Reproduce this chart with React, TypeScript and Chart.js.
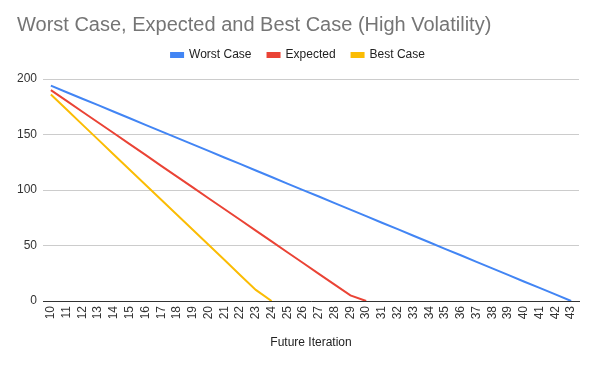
import React, { useEffect, useRef } from "react";
import { Chart, registerables } from "chart.js";

Chart.register(...registerables);

const categories = [
  "10","11","12","13","14","15","16","17","18","19","20","21","22","23","24","25","26",
  "27","28","29","30","31","32","33","34","35","36","37","38","39","40","41","42","43",
];
const worstCase = [
  194, 188.1, 182.2, 176.4, 170.5, 164.6, 158.7, 152.8, 147.0, 141.1, 135.2, 129.3,
  123.5, 117.6, 111.7, 105.8, 99.9, 94.1, 88.2, 82.3, 76.4, 70.5, 64.7, 58.8, 52.9,
  47.0, 41.2, 35.3, 29.4, 23.5, 17.6, 11.8, 5.9, 0,
];
const expected = [
  190, 180.3, 170.5, 160.8, 151.1, 141.3, 131.6, 121.8, 112.1, 102.4, 92.6, 82.9,
  73.2, 63.4, 53.7, 43.9, 34.2, 24.5, 14.7, 5, 0,
];
const bestCase = [186, 172.5, 158.9, 145.4, 131.8, 118.3, 104.8, 91.2, 77.7, 64.2, 50.6, 37.1, 23.5, 10, 0];
const yTicks = [0, 50, 100, 150, 200];

const FONT = "Arial, 'Liberation Sans', sans-serif";

// adds empty space below the legend so the plot starts lower
const legendGap = {
  id: "legendGap",
  beforeLayout(chart: any) {
    const l = chart.legend;
    if (l && !l.__gapPatched) {
      const fit = l.fit;
      l.fit = function (this: any) {
        fit.call(this);
        this.height += 8;
      };
      l.__gapPatched = true;
    }
  },
};

export default function App() {
  const ref = useRef<HTMLCanvasElement | null>(null);
  useEffect(() => {
    if (!ref.current) return;
    const chart = new Chart(ref.current, {
      type: "line",
      data: {
        labels: categories,
        datasets: [
          { label: "Worst Case", data: worstCase, borderColor: "#4285F4", backgroundColor: "#4285F4", borderWidth: 2, pointRadius: 0, tension: 0 },
          { label: "Expected", data: expected, borderColor: "#EA4335", backgroundColor: "#EA4335", borderWidth: 2, pointRadius: 0, tension: 0 },
          { label: "Best Case", data: bestCase, borderColor: "#FBBC04", backgroundColor: "#FBBC04", borderWidth: 2, pointRadius: 0, tension: 0 },
        ],
      },
      options: {
        responsive: false,
        animation: false,
        layout: { padding: { left: 17, right: 17, top: 0, bottom: 0 } },
        plugins: {
          title: {
            display: true,
            text: "Worst Case, Expected and Best Case (High Volatility)",
            align: "start",
            color: "#757575",
            font: { family: FONT, size: 20, weight: "normal" },
            padding: { top: 13, bottom: -4 },
          },
          legend: {
            display: true,
            position: "top",
            labels: {
              boxWidth: 12,
              boxHeight: 4,
              padding: 16,
              color: "#222",
              font: { family: FONT, size: 12 },
            },
          },
          tooltip: { enabled: false },
        },
        scales: {
          x: {
            offset: true,
            grid: { display: false, drawTicks: false },
            border: { display: true, color: "#333", width: 1 },
            ticks: {
              autoSkip: false,
              minRotation: 90,
              maxRotation: 90,
              padding: 5,
              color: "#333",
              font: { family: FONT, size: 12 },
            },
            title: {
              display: true,
              text: "Future Iteration",
              color: "#222",
              font: { family: FONT, size: 12 },
              padding: { top: 4, bottom: 15 },
            },
            afterFit: (s: any) => { s.height = 64; },
          },
          y: {
            min: 0,
            max: 200,
            afterBuildTicks: (s: any) => { s.ticks = yTicks.map((v) => ({ value: v })); },
            grid: { color: "#cccccc", drawTicks: false },
            border: { display: false },
            ticks: {
              padding: 6,
              color: "#333",
              font: { family: FONT, size: 12 },
            },
            afterFit: (s: any) => { s.width = 26; },
          },
        },
      },
      plugins: [legendGap],
    });
    return () => chart.destroy();
  }, []);
  return (
    <div style={{ position: "fixed", left: 0, top: 0, width: 596, height: 365, background: "#fff" }}>
      <canvas ref={ref} width={596} height={365} />
    </div>
  );
}
